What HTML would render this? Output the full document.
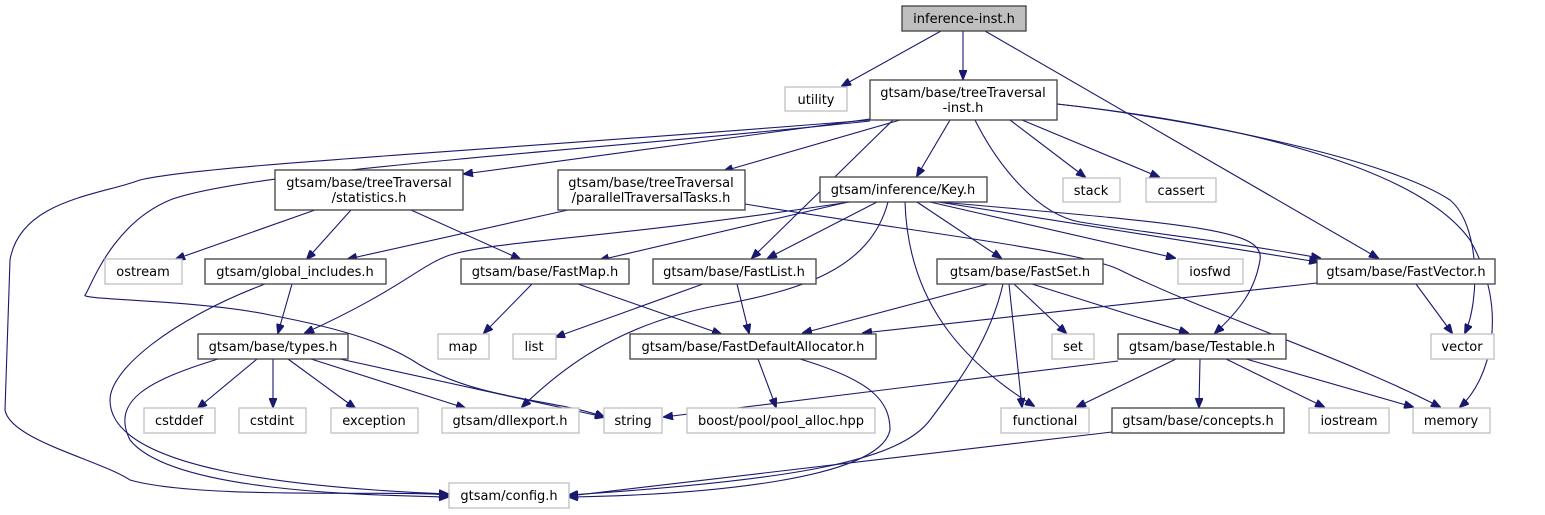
<!DOCTYPE html>
<html><head><meta charset="utf-8"><style>
html,body{margin:0;padding:0;background:#fff;}
svg{display:block;}
text{font-family:"DejaVu Sans","Liberation Sans",sans-serif;font-size:13px;fill:#000;text-anchor:middle;}
.g{fill:#fff;stroke:#bfbfbf;stroke-width:1.3;}
.b{fill:#fff;stroke:#404040;stroke-width:1.3;}
.e{fill:none;stroke:#191970;stroke-width:1.1;}
</style></head><body>
<svg width="1545" height="515" viewBox="0 0 1545 515" xmlns="http://www.w3.org/2000/svg">
<defs><marker id="a" markerWidth="10" markerHeight="8" refX="9" refY="4" orient="auto" markerUnits="userSpaceOnUse"><path d="M0,0 L10,4 L0,8 Z" fill="#191970" stroke="#191970"/></marker></defs>
<g class="e" marker-end="url(#a)">
<path d="M941,31 L842,86"/>
<path d="M963,31 L963,79"/>
<path d="M985,31 L1378,258"/>
<path d="M870,119 L464,174"/>
<path d="M900,120 L724,171"/>
<path d="M950,120 L917,176"/>
<path d="M1010,120 L1085,177"/>
<path d="M1022,120 L1159,177"/>
<path d="M893,120 L752,258"/>
<path d="M975,120 C1000,170 1040,215 1080,222 C1160,235 1220,240 1320,258"/>
<path d="M1057,104 C1200,120 1390,160 1450,200 C1480,225 1480,300 1465,333"/>
<path d="M1057,104 C1250,125 1420,170 1470,240 C1510,310 1490,380 1460,407"/>
<path d="M870,120 C500,150 200,165 140,180 C100,195 20,200 10,260 L5,410 C10,440 100,460 130,480 C200,500 400,490 448,495"/>
<path d="M870,121 C600,150 250,170 170,200 C110,225 90,290 85,295 C80,300 200,300 270,315 C350,330 390,345 420,365 C480,400 560,400 604,417"/>
<path d="M315,210 L176,259"/>
<path d="M351,210 L307,259"/>
<path d="M411,210 L520,259"/>
<path d="M568,210 L348,259"/>
<path d="M745,204 C900,230 1080,250 1120,270 C1200,310 1350,360 1440,407"/>
<path d="M850,202 C600,240 500,240 450,255 C420,265 400,290 305,333"/>
<path d="M848,202 L600,260"/>
<path d="M877,202 L768,258"/>
<path d="M888,202 C870,270 800,290 720,305 C640,320 580,350 522,407"/>
<path d="M905,202 C908,300 960,360 1034,406"/>
<path d="M917,202 L1001,258"/>
<path d="M930,202 L1175,258"/>
<path d="M938,202 L1318,262"/>
<path d="M940,202 C1200,225 1265,230 1260,260 C1255,290 1240,310 1215,333"/>
<path d="M292,284 L278,333"/>
<path d="M265,284 C170,320 110,370 110,400 C110,470 300,488 448,494"/>
<path d="M532,284 L484,333"/>
<path d="M578,284 L721,334"/>
<path d="M703,284 L556,337"/>
<path d="M737,284 L749,333"/>
<path d="M988,284 L803,333"/>
<path d="M1014,284 L1066,333"/>
<path d="M1032,284 L1188,333"/>
<path d="M1009,284 L1022,407"/>
<path d="M1003,284 C990,340 960,380 930,420 C900,460 800,480 569,495"/>
<path d="M1317,283 L863,333"/>
<path d="M1416,284 L1452,333"/>
<path d="M257,359 L198,408"/>
<path d="M273,359 L273,407"/>
<path d="M288,359 L355,408"/>
<path d="M311,359 L465,408"/>
<path d="M340,359 L604,417"/>
<path d="M218,359 C150,380 110,400 130,440 C170,490 350,495 448,497"/>
<path d="M758,359 L776,407"/>
<path d="M800,359 C870,380 890,400 890,430 C880,480 700,495 569,497"/>
<path d="M1118,361 L664,417"/>
<path d="M1176,359 L1077,407"/>
<path d="M1200,359 L1199,407"/>
<path d="M1226,359 L1324,407"/>
<path d="M1246,359 L1413,407"/>
<path d="M1112,432 L569,496"/>
</g>
<rect x="902" y="6" width="124" height="25" fill="#bfbfbf" stroke="#404040" stroke-width="1.3"/><text x="964" y="23">inference-inst.h</text>
<rect class="g" x="785" y="87" width="62" height="24"/><text x="816" y="104">utility</text>
<rect class="b" x="870" y="80" width="187" height="40"/><text x="963" y="97">gtsam/base/treeTraversal</text><text x="963" y="112">-inst.h</text>
<rect class="b" x="275" y="170" width="188" height="40"/><text x="369" y="187">gtsam/base/treeTraversal</text><text x="369" y="202">/statistics.h</text>
<rect class="b" x="558" y="170" width="187" height="40"/><text x="651" y="187">gtsam/base/treeTraversal</text><text x="651" y="202">/parallelTraversalTasks.h</text>
<rect class="b" x="820" y="177" width="167" height="25"/><text x="903" y="194">gtsam/inference/Key.h</text>
<rect class="g" x="1063" y="178" width="57" height="24"/><text x="1091" y="195">stack</text>
<rect class="g" x="1146" y="178" width="70" height="24"/><text x="1181" y="195">cassert</text>
<rect class="g" x="105" y="259" width="77" height="25"/><text x="143" y="276">ostream</text>
<rect class="b" x="205" y="259" width="181" height="25"/><text x="295" y="276">gtsam/global_includes.h</text>
<rect class="b" x="461" y="259" width="168" height="25"/><text x="545" y="276">gtsam/base/FastMap.h</text>
<rect class="b" x="653" y="259" width="163" height="25"/><text x="734" y="276">gtsam/base/FastList.h</text>
<rect class="b" x="937" y="259" width="166" height="25"/><text x="1020" y="276">gtsam/base/FastSet.h</text>
<rect class="g" x="1178" y="259" width="65" height="25"/><text x="1210" y="276">iosfwd</text>
<rect class="b" x="1317" y="259" width="178" height="25"/><text x="1406" y="276">gtsam/base/FastVector.h</text>
<rect class="b" x="198" y="334" width="150" height="25"/><text x="273" y="351">gtsam/base/types.h</text>
<rect class="g" x="438" y="334" width="51" height="25"/><text x="463" y="351">map</text>
<rect class="g" x="513" y="334" width="43" height="25"/><text x="534" y="351">list</text>
<rect class="b" x="630" y="334" width="246" height="25"/><text x="753" y="351">gtsam/base/FastDefaultAllocator.h</text>
<rect class="g" x="1052" y="334" width="42" height="25"/><text x="1073" y="351">set</text>
<rect class="b" x="1118" y="334" width="168" height="25"/><text x="1202" y="351">gtsam/base/Testable.h</text>
<rect class="g" x="1431" y="334" width="63" height="25"/><text x="1462" y="351">vector</text>
<rect class="g" x="144" y="408" width="71" height="25"/><text x="179" y="425">cstddef</text>
<rect class="g" x="239" y="408" width="67" height="25"/><text x="272" y="425">cstdint</text>
<rect class="g" x="331" y="408" width="87" height="25"/><text x="374" y="425">exception</text>
<rect class="g" x="442" y="408" width="137" height="25"/><text x="510" y="425">gtsam/dllexport.h</text>
<rect class="g" x="604" y="408" width="58" height="25"/><text x="633" y="425">string</text>
<rect class="g" x="687" y="408" width="188" height="25"/><text x="781" y="425">boost/pool/pool_alloc.hpp</text>
<rect class="g" x="1001" y="408" width="88" height="25"/><text x="1045" y="425">functional</text>
<rect class="b" x="1112" y="408" width="172" height="25"/><text x="1198" y="425">gtsam/base/concepts.h</text>
<rect class="g" x="1309" y="408" width="80" height="25"/><text x="1349" y="425">iostream</text>
<rect class="g" x="1413" y="408" width="77" height="25"/><text x="1451" y="425">memory</text>
<rect class="g" x="449" y="483" width="120" height="25"/><text x="509" y="500">gtsam/config.h</text>
</svg>
</body></html>
